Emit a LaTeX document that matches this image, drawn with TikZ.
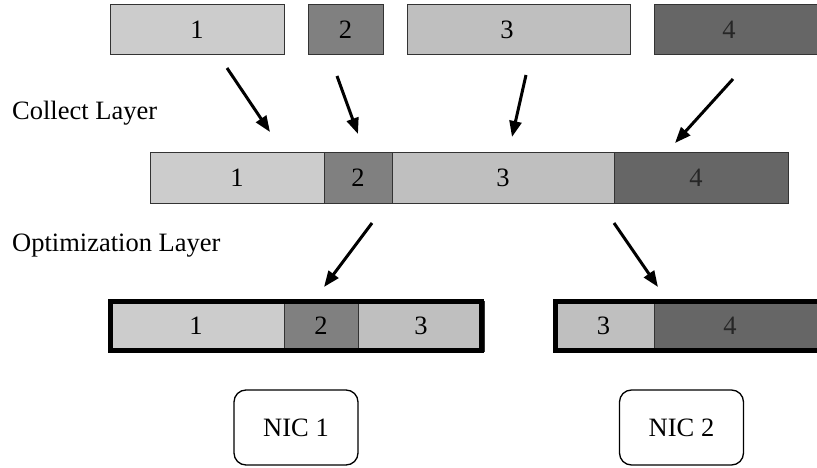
\documentclass[tikz,border=0pt]{standalone}
\usepackage{fontspec}
\setmainfont{Liberation Serif}
\usetikzlibrary{arrows.meta}
\definecolor{cone}{HTML}{CCCCCC}
\definecolor{ctwo}{HTML}{808080}
\definecolor{cthree}{HTML}{BFBFBF}
\definecolor{cfour}{HTML}{666666}
\definecolor{edge}{HTML}{333333}
\begin{document}
\begin{tikzpicture}[x=1pt,y=-1pt,
  seg/.style={draw=edge, line width=1pt, minimum height=50pt, inner sep=0pt, outer sep=0pt, font=\fontsize{26.5}{30}\selectfont},
  txt/.style={inner sep=0pt, font=\fontsize{26.5}{30}\selectfont},
  thickframe/.style={draw=black, line width=5pt},
  nic/.style={draw=black, line width=1.3pt, rounded corners=12pt, minimum width=124pt, minimum height=75pt, inner sep=0pt, font=\fontsize{26.5}{30}\selectfont},
  flow/.style={line width=3pt, -{Triangle[length=16pt,width=12pt]}}]
\useasboundingbox (0,0) rectangle (817,468);
% top row
\node[seg, fill=cone, minimum width=174pt] (t1) at (197,30) {1};
\node[seg, fill=ctwo, minimum width=75pt] (t2) at (345.5,30) {2};
\node[seg, fill=cthree, minimum width=223pt] (t3) at (518.5,30) {};
\node[txt] (t3l) at (507,30) {3};
\node[seg, fill=cfour, minimum width=176pt] (t4) at (742,30) {};
\node[txt, text=black!85] (t4l) at (729,30) {4};
% labels
\node[txt, anchor=base west] (collect) at (12,120) {Collect Layer};
\node[txt, anchor=base west] (optim) at (12,251) {Optimization Layer};
% middle bar
\node[seg, fill=cone, minimum width=174pt] (m1) at (237,178) {1};
\node[seg, fill=ctwo, minimum width=68pt] (m2) at (358,178) {2};
\node[seg, fill=cthree, minimum width=222pt] (m3) at (503,178) {3};
\node[seg, fill=cfour, minimum width=174pt] (m4) at (701,178) {};
\node[txt, text=black!85] (m4l) at (696,178) {4};
% bottom left bar
\node[seg, fill=cone, minimum width=176pt] (b1) at (196,326) {1};
\node[seg, fill=ctwo, minimum width=74pt] (b2) at (321,326) {2};
\node[seg, fill=cthree, minimum width=126pt] (b3) at (421,326) {3};
\draw[thickframe] (110.5,301.5) rectangle (481.5,350.5);
% bottom right bar
\node[seg, fill=cthree, minimum width=101pt] (c3) at (603.5,326) {3};
\node[seg, fill=cfour, minimum width=186pt] (c4) at (747,326) {};
\node[txt, text=black!85] (c4l) at (730,326) {4};
\draw[thickframe] (555.5,301.5) rectangle (850,350.5);
% NICs
\node[nic] (nic1) at (296,427.5) {NIC 1};
\node[nic] (nic2) at (681.5,427.5) {NIC 2};
% arrows
\coordinate (a1s) at (227,68);  \coordinate (a1e) at (270,132);
\coordinate (a2s) at (337,76);  \coordinate (a2e) at (358,134);
\coordinate (a3s) at (526,75);  \coordinate (a3e) at (512,137);
\coordinate (a4s) at (733,79);  \coordinate (a4e) at (675,143);
\coordinate (a5s) at (372,223); \coordinate (a5e) at (324,287);
\coordinate (a6s) at (614,223); \coordinate (a6e) at (658,287);
\draw[flow] (a1s) -- (a1e);
\draw[flow] (a2s) -- (a2e);
\draw[flow] (a3s) -- (a3e);
\draw[flow] (a4s) -- (a4e);
\draw[flow] (a5s) -- (a5e);
\draw[flow] (a6s) -- (a6e);
\end{tikzpicture}
\end{document}
